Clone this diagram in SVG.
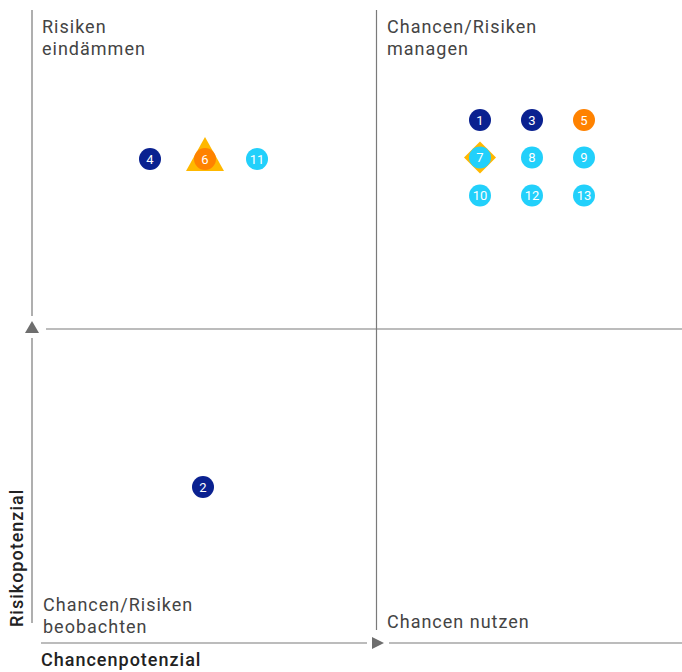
<svg xmlns="http://www.w3.org/2000/svg" width="682" height="672" viewBox="0 0 682 672">
<style>
.ax{stroke:#7a7a7a;stroke-width:1.2;fill:none}
.arr{fill:#6e6e6e}
.q{font-family:Roboto,"Noto Sans",sans-serif;font-size:18px;fill:#444;letter-spacing:1px}
.lab{font-family:Roboto,"Noto Sans",sans-serif;font-size:18px;font-weight:500;fill:#222;letter-spacing:1px}
.n{font-family:Roboto,"Noto Sans",sans-serif;font-size:13px;fill:#fff;text-anchor:middle}
.navy{fill:#0a2190}
.cyan{fill:#22d0fb}
.orange{fill:#ff8200}
.yellow{fill:#ffb800}
</style>
<g id="axes">
<line class="ax" x1="32" y1="10" x2="32" y2="316"/>
<line class="ax" x1="32" y1="338" x2="32" y2="623"/>
<polygon class="arr" points="32,321 39,333 25,333"/>
<line class="ax" x1="46" y1="329" x2="682" y2="329"/>
<line class="ax" x1="376.5" y1="10" x2="376.5" y2="630"/>
<line class="ax" x1="41" y1="643" x2="367" y2="643"/>
<polygon class="arr" points="384,643 372,637 372,649"/>
<line class="ax" x1="389" y1="643" x2="682" y2="643"/>
</g>
<g id="labels">
<text class="q" x="42" y="33">Risiken</text>
<text class="q" x="42" y="55">eindämmen</text>
<text class="q" x="387" y="33">Chancen/Risiken</text>
<text class="q" x="387" y="55">managen</text>
<text class="q" x="43" y="611">Chancen/Risiken</text>
<text class="q" x="43" y="633">beobachten</text>
<text class="q" x="387" y="628">Chancen nutzen</text>
<text class="lab" x="41" y="666">Chancenpotenzial</text>
<text class="lab" transform="translate(23,627) rotate(-90)">Risikopotenzial</text>
</g>
<g id="n4"><circle class="navy" cx="150" cy="159" r="11"/><text class="n" x="150" y="163.5">4</text></g>
<g id="n6"><polygon class="yellow" points="205,137 224,171 186,171"/><circle class="orange" cx="205" cy="159" r="11"/><text class="n" x="205" y="163.5">6</text></g>
<g id="n11"><circle class="cyan" cx="257" cy="159" r="11"/><text class="n" x="257" y="163.5">11</text></g>
<g id="n1"><circle class="navy" cx="480" cy="120" r="11"/><text class="n" x="480" y="124.5">1</text></g>
<g id="n3"><circle class="navy" cx="532" cy="120" r="11"/><text class="n" x="532" y="124.5">3</text></g>
<g id="n5"><circle class="orange" cx="584" cy="120" r="11"/><text class="n" x="584" y="124.5">5</text></g>
<g id="n7"><polygon class="yellow" points="480,141.5 496,157.5 480,173.5 464,157.5"/><circle class="cyan" cx="480" cy="157.5" r="11"/><text class="n" x="480" y="162">7</text></g>
<g id="n8"><circle class="cyan" cx="532" cy="157.5" r="11"/><text class="n" x="532" y="162">8</text></g>
<g id="n9"><circle class="cyan" cx="584" cy="157.5" r="11"/><text class="n" x="584" y="162">9</text></g>
<g id="n10"><circle class="cyan" cx="480" cy="195.5" r="11"/><text class="n" x="480" y="200">10</text></g>
<g id="n12"><circle class="cyan" cx="532" cy="195.5" r="11"/><text class="n" x="532" y="200">12</text></g>
<g id="n13"><circle class="cyan" cx="584" cy="195.5" r="11"/><text class="n" x="584" y="200">13</text></g>
<g id="n2"><circle class="navy" cx="203" cy="487" r="11"/><text class="n" x="203" y="491.5">2</text></g>
</svg>
